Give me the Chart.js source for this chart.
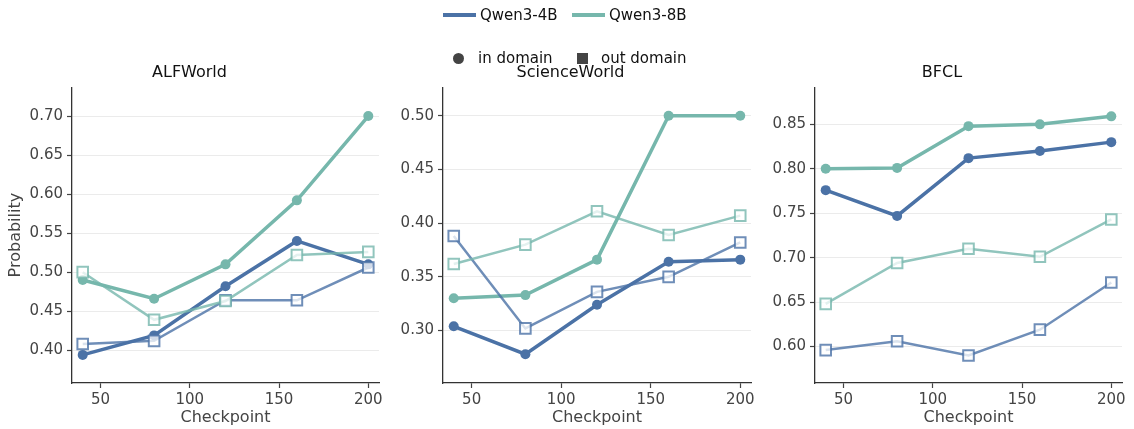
<!DOCTYPE html>
<html>
<head>
<meta charset="utf-8">
<script src="https://cdn.jsdelivr.net/npm/chart.js@4/dist/chart.umd.min.js"></script>
<style>
  body { margin: 0; background: #fff; font-family: "DejaVu Sans", sans-serif; }
  #wrap { position: relative; width: 1134px; height: 429px; overflow: hidden; }
  .panel { position: absolute; top: 60px; height: 369px; }
  .legend { position: absolute; font-size: 15px; color: #111; white-space: nowrap; line-height: 18px; }
  .swatch { position: absolute; }
</style>
</head>
<body>
<div id="wrap">
  <div class="panel" style="left:0px;width:390px"><canvas id="c0"></canvas></div>
  <div class="panel" style="left:390px;width:372px"><canvas id="c1"></canvas></div>
  <div class="panel" style="left:762px;width:372px"><canvas id="c2"></canvas></div>

  <span class="swatch" style="left:443px;top:13px;width:33px;height:4px;background:#4b72a6"></span>
  <span class="legend" style="left:480px;top:6px">Qwen3-4B</span>
  <span class="swatch" style="left:572px;top:13px;width:33px;height:4px;background:#76b7ac"></span>
  <span class="legend" style="left:609px;top:6px">Qwen3-8B</span>

  <span class="swatch" style="left:453px;top:53px;width:11px;height:11px;border-radius:50%;background:#444"></span>
  <span class="legend" style="left:478px;top:49px">in domain</span>
  <span class="swatch" style="left:577px;top:53px;width:11px;height:11px;background:#444"></span>
  <span class="legend" style="left:601px;top:49px">out domain</span>
</div>
<script>
const checkpoints = [40, 80, 120, 160, 200];
const xTicks = [50, 100, 150, 200];

// ALFWorld
const alf4bIn  = [0.394, 0.419, 0.482, 0.540, 0.510];
const alf8bIn  = [0.490, 0.466, 0.510, 0.592, 0.700];
const alf4bOut = [0.408, 0.412, 0.464, 0.464, 0.506];
const alf8bOut = [0.500, 0.439, 0.463, 0.522, 0.526];
const alfTicks = [0.40, 0.45, 0.50, 0.55, 0.60, 0.65, 0.70];

// ScienceWorld
const sci4bIn  = [0.304, 0.278, 0.324, 0.364, 0.366];
const sci8bIn  = [0.330, 0.333, 0.366, 0.500, 0.500];
const sci4bOut = [0.388, 0.302, 0.336, 0.350, 0.382];
const sci8bOut = [0.362, 0.380, 0.411, 0.389, 0.407];
const sciTicks = [0.30, 0.35, 0.40, 0.45, 0.50];

// BFCL
const bfcl4bIn  = [0.776, 0.747, 0.812, 0.820, 0.830];
const bfcl8bIn  = [0.800, 0.801, 0.848, 0.850, 0.859];
const bfcl4bOut = [0.596, 0.606, 0.590, 0.619, 0.672];
const bfcl8bOut = [0.648, 0.694, 0.710, 0.701, 0.743];
const bfclTicks = [0.60, 0.65, 0.70, 0.75, 0.80, 0.85];

const BLUE = "#4b72a6";
const TEAL = "#76b7ac";
const BLUE_A = "rgba(75,114,166,0.8)";
const TEAL_A = "rgba(118,183,172,0.8)";

function pts(vals) {
  return vals.map((v, i) => ({ x: checkpoints[i], y: v }));
}

function inLine(vals, color, order) {
  return {
    data: pts(vals),
    borderColor: color,
    backgroundColor: color,
    borderWidth: 3.5,
    pointStyle: "circle",
    pointRadius: 5,
    pointBorderWidth: 0,
    order: order,
  };
}

function outLine(vals, color, order) {
  return {
    data: pts(vals),
    borderColor: color,
    backgroundColor: "rgba(255,255,255,0.75)",
    borderWidth: 2.5,
    pointStyle: "rect",
    pointRadius: 7.5,
    pointBorderWidth: 2,
    order: order,
  };
}

function drawPanel(id, title, sets, yMin, yMax, yTicks, yWidth, padRight, yTitle) {
  const ctx = document.getElementById(id).getContext("2d");
  new Chart(ctx, {
    type: "line",
    data: {
      datasets: [
        outLine(sets[3], TEAL_A, 0),
        outLine(sets[2], BLUE_A, 1),
        inLine(sets[1], TEAL, 2),
        inLine(sets[0], BLUE, 3),
      ],
    },
    options: {
      responsive: true,
      maintainAspectRatio: false,
      animation: false,
      layout: { padding: { top: 0, right: padRight, bottom: 0, left: 0 } },
      plugins: {
        legend: { display: false },
        tooltip: { enabled: false },
        title: {
          display: true,
          text: title,
          color: "#111",
          font: { family: "DejaVu Sans", size: 16, weight: "normal" },
          padding: { top: 3, bottom: 5 },
        },
      },
      scales: {
        x: {
          type: "linear",
          min: 34,
          max: 206,
          afterBuildTicks: (s) => { s.ticks = xTicks.map((v) => ({ value: v })); },
          afterFit: (s) => { s.height = 46; },
          ticks: {
            color: "#444",
            padding: 3,
            maxRotation: 0,
            font: { family: "DejaVu Sans", size: 15 },
          },
          grid: { drawOnChartArea: false, drawTicks: true, tickLength: 5, tickColor: "#444", tickWidth: 1.2 },
          border: { color: "#333", width: 1.3 },
          title: {
            display: true,
            text: "Checkpoint",
            color: "#444",
            font: { family: "DejaVu Sans", size: 16 },
            padding: { top: 0, bottom: 2 },
          },
        },
        y: {
          type: "linear",
          min: yMin,
          max: yMax,
          afterBuildTicks: (s) => { s.ticks = yTicks.map((v) => ({ value: v })); },
          afterFit: (s) => { s.width = yWidth; },
          ticks: {
            color: "#444",
            padding: 4,
            font: { family: "DejaVu Sans", size: 15 },
            callback: (v) => Number(v).toFixed(2),
          },
          grid: { color: "#ebebeb", lineWidth: 1, drawTicks: true, tickLength: 5, tickColor: "#444", tickWidth: 1.2 },
          border: { color: "#333", width: 1.3 },
          title: {
            display: !!yTitle,
            text: yTitle || "",
            color: "#444",
            font: { family: "DejaVu Sans", size: 16 },
            padding: { top: 6, bottom: 0 },
          },
        },
      },
    },
  });
}

drawPanel("c0", "ALFWorld", [alf4bIn, alf8bIn, alf4bOut, alf8bOut], 0.358, 0.737, alfTicks, 72, 11, "Probability");
drawPanel("c1", "ScienceWorld", [sci4bIn, sci8bIn, sci4bOut, sci8bOut], 0.2512, 0.5265, sciTicks, 53, 11, null);
drawPanel("c2", "BFCL", [bfcl4bIn, bfcl8bIn, bfcl4bOut, bfcl8bOut], 0.559, 0.8918, bfclTicks, 53, 12, null);
</script>
</body>
</html>
